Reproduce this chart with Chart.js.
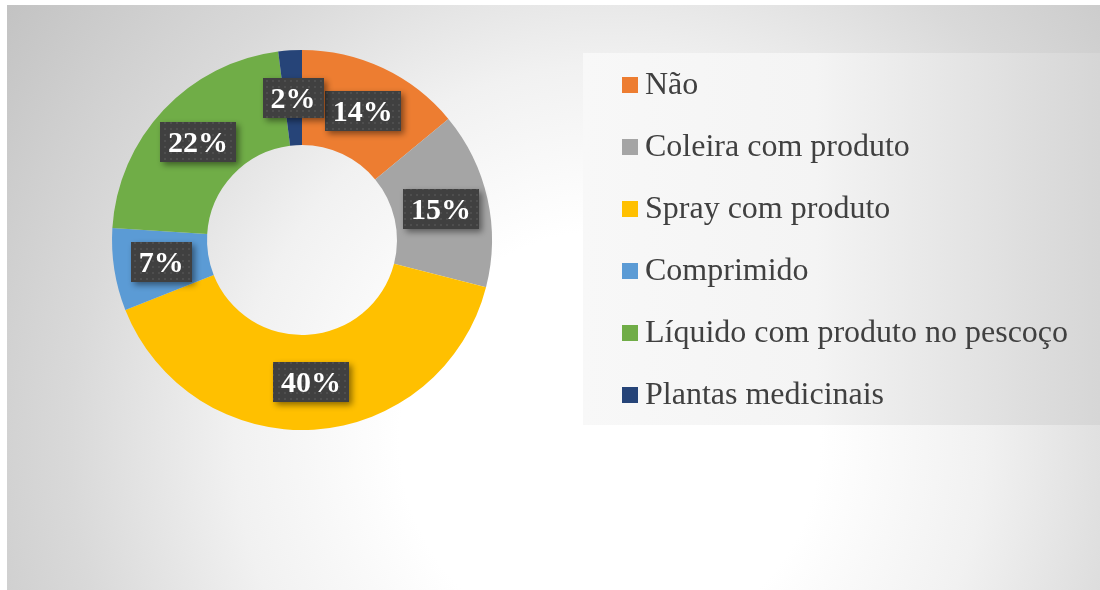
<!DOCTYPE html>
<html>
<head>
<meta charset="utf-8">
<script src="https://cdnjs.cloudflare.com/ajax/libs/Chart.js/4.4.0/chart.umd.min.js"></script>
<style>
html,body{margin:0;padding:0;background:#fff}
#wrap{width:1100px;height:590px;position:relative}
</style>
</head>
<body>
<div id="wrap"><canvas id="pieChart" width="1100" height="590"></canvas></div>
<script>
// data
const labels=['Não','Coleira com produto','Spray com produto','Comprimido','Líquido com produto no pescoço','Plantas medicinais'];
const values=[14,15,40,7,22,2];
const colors=['#ED7D31','#A5A5A5','#FFC000','#5B9BD5','#70AD47','#264478'];

const serif='"Liberation Serif","Times New Roman",serif';

// background: grey frame with white glow
const bgPlugin={
  id:'bg',
  beforeDraw(chart){
    const c=chart.ctx;
    c.save();
    c.fillStyle='#fff';c.fillRect(0,0,1100,590);
    const g=c.createRadialGradient(610,440,0,610,440,750);
    g.addColorStop(0,'#ffffff');
    g.addColorStop(0.28,'#ffffff');
    g.addColorStop(0.5,'#f1f1f1');
    g.addColorStop(0.72,'#d9d9d9');
    g.addColorStop(1,'#c2c2c2');
    c.fillStyle=g;c.fillRect(7,5,1093,585);
    // legend panel
    const lg=c.createLinearGradient(583,0,1100,0);
    lg.addColorStop(0,'#f8f8f8');
    lg.addColorStop(0.45,'#f4f4f4');
    lg.addColorStop(1,'#d6d6d6');
    c.fillStyle=lg;c.fillRect(583,53,517,372);
    c.restore();
  }
};

// dotted dark boxes with the percentages
let pat=null;
function getPattern(c){
  if(pat)return pat;
  const p=document.createElement('canvas');p.width=6;p.height=6;
  const pc=p.getContext('2d');
  pc.fillStyle='#404040';pc.fillRect(0,0,6,6);
  pc.fillStyle='#4e4e4e';pc.fillRect(2,2,2,2);
  pat=c.createPattern(p,'repeat');
  return pat;
}
const labelPlugin={
  id:'pctLabels',
  afterDatasetsDraw(chart){
    const c=chart.ctx;
    const meta=chart.getDatasetMeta(0);
    c.save();
    c.font='bold 30px '+serif;
    c.textAlign='center';c.textBaseline='middle';
    meta.data.forEach((arc,i)=>{
      const pos=arc.tooltipPosition();
      const txt=values[i]+'%';
      const w=c.measureText(txt).width+16,h=40;
      c.save();
      c.shadowColor='rgba(0,0,0,0.45)';c.shadowBlur=6;c.shadowOffsetX=3;c.shadowOffsetY=3;
      c.fillStyle=getPattern(c);
      c.fillRect(Math.round(pos.x-w/2),Math.round(pos.y-h/2),Math.round(w),h);
      c.restore();
      c.fillStyle='#fff';
      c.fillText(txt,pos.x,pos.y+2);
    });
    c.restore();
  }
};

// legend drawn on the right panel
const legendPlugin={
  id:'sideLegend',
  afterDraw(chart){
    const c=chart.ctx;
    c.save();
    c.font='32px '+serif;
    c.textBaseline='middle';c.textAlign='left';
    labels.forEach((l,i)=>{
      const y=85+i*62;
      c.fillStyle=colors[i];
      c.fillRect(622,y-8,16,16);
      c.fillStyle='#404040';
      c.fillText(l,645,y+1);
    });
    c.restore();
  }
};

new Chart(document.getElementById('pieChart'),{
  type:'doughnut',
  data:{labels,datasets:[{data:values,backgroundColor:colors,borderWidth:0,hoverOffset:0,offset:0}]},
  options:{
    responsive:false,animation:false,cutout:'50%',
    layout:{padding:{left:112,right:608,top:50,bottom:160}},
    plugins:{legend:{display:false},tooltip:{enabled:false}}
  },
  plugins:[bgPlugin,labelPlugin,legendPlugin]
});
</script>
</body>
</html>
